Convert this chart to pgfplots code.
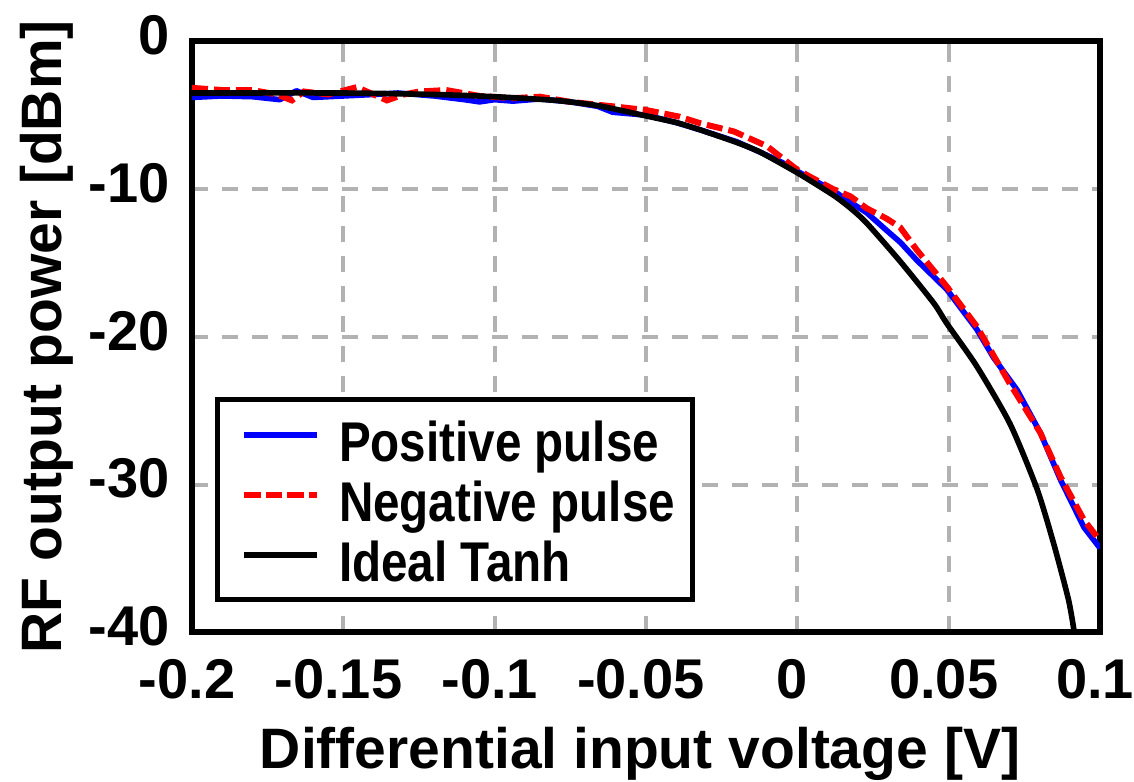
\documentclass[border=0pt]{standalone}
\usepackage{fontspec}
\setmainfont{Liberation Sans}
\newfontfamily\legfont{Liberation Sans}[FakeStretch=0.85]
\usepackage{pgfplots}
\pgfplotsset{compat=1.18}
\tikzset{reddash/.style={dash pattern=on 8pt off 3pt}}
\pgfplotstableread{
x y
-0.2 -3.8
-0.19 -3.7
-0.18 -3.75
-0.171 -3.95
-0.1655 -3.35
-0.16 -3.8
-0.15 -3.7
-0.14 -3.6
-0.132 -3.5
-0.12 -3.7
-0.11 -3.95
-0.105 -4.1
-0.1 -3.95
-0.094 -4.05
-0.085 -3.9
-0.075 -4.1
-0.066 -4.4
-0.061 -4.8
-0.05 -5.0
-0.04 -5.5
-0.032 -6.0
-0.02 -6.8
-0.0123 -7.5
-0.005 -8.2
0 -8.8
0.0118 -10.1
0.0176 -10.9
0.0229 -11.6
0.0295 -12.8
0.034 -13.6
0.0394 -14.8
0.0494 -16.8
0.0593 -19.5
0.0648 -21.4
0.0726 -23.6
0.0803 -26.5
0.087 -29.7
0.0947 -32.9
0.1 -34.3
}\pos
\pgfplotstableread{
x y
-0.2 -3.15
-0.19 -3.3
-0.18 -3.3
-0.172 -3.6
-0.167 -4.0
-0.163 -3.4
-0.155 -3.6
-0.1455 -3.1
-0.1356 -4.0
-0.13 -3.6
-0.125 -3.4
-0.116 -3.3
-0.105 -3.7
-0.094 -3.85
-0.085 -3.75
-0.075 -4.1
-0.061 -4.4
-0.05 -4.65
-0.039 -5.1
-0.032 -5.55
-0.021 -6.1
-0.01 -7.1
0 -8.7
0.0118 -10.0
0.0176 -10.5
0.0229 -11.3
0.0295 -12.0
0.034 -12.6
0.0394 -14.1
0.0494 -16.6
0.0593 -19.3
0.0703 -23.2
0.0803 -26.5
0.087 -29.5
0.0947 -32.4
0.1 -33.8
}\negp
\pgfplotstableread{
x y
-0.2 -3.5
-0.15 -3.5
-0.12 -3.6
-0.1 -3.75
-0.08 -4.0
-0.066 -4.35
-0.05 -5.05
-0.04 -5.5
-0.032 -6.0
-0.02 -6.85
-0.0123 -7.5
0 -8.9
0.0118 -10.4
0.0176 -11.3
0.0229 -12.3
0.034 -14.9
0.045 -17.7
0.0494 -19.1
0.0593 -22.0
0.0703 -25.9
0.0792 -30.3
0.0847 -34.0
0.0896 -37.8
0.0915 -40.0
}\ideal
\newcommand{\legline}[1]{\tikz[baseline={(0,-13.5pt)}]{\path (0,-3pt) rectangle (36.5pt,3pt); \draw[#1, line cap=butt] (0,0) -- (36.5pt,0);}}
\begin{document}
\begin{tikzpicture}
\begin{axis}[
  scale only axis, width=454pt, height=295.5pt,
  xmin=-0.2, xmax=0.1, ymin=-40, ymax=0,
  xtick={-0.2,-0.15,-0.1,-0.05,0,0.05,0.1},
  xticklabels={-0.2,-0.15,-0.1,-0.05,0,0.05,0.1},
  ytick={-40,-30,-20,-10,0},
  yticklabels={-40,-30,-20,-10,0},
  tick label style={font=\bfseries\fontsize{28}{28}\selectfont, inner sep=0pt},
  xticklabel style={anchor=base, yshift=-33pt, xshift=-2.5pt},
  yticklabel style={anchor=east, xshift=-11pt, yshift=3pt},
  tick align=inside,
  major tick length=4pt,
  tick style={black!30, line width=2pt},
  grid=major,
  major grid style={black!30, line width=2pt, dash pattern=on 8pt off 7pt},
  axis line style={line width=3pt},
  xlabel={Differential input voltage [V]},
  ylabel={RF output power [dBm]},
  label style={font=\bfseries\fontsize{28.5}{28.5}\selectfont, inner sep=0pt},
  xlabel style={at={(axis description cs:0.4934,-0.2301)}, anchor=base},
  ylabel style={at={(axis description cs:-0.1432,0.5)}, anchor=base},
]
\addplot[blue, line width=2.8pt, line join=round] table[x=x,y=y] {\pos};
\addplot[red, line width=3pt, reddash, line cap=butt] table[x=x,y=y] {\negp};
\addplot[black, line width=2.8pt, line join=round, smooth, tension=0.4] table[x=x,y=y] {\ideal};
\coordinate (ll) at (rel axis cs:0,0);
\coordinate (ur) at (rel axis cs:1,1);
\coordinate (legsw) at (axis description cs:0.0281,0.055);
\end{axis}
\node[draw=black, line width=2.5pt, fill=white, inner sep=0pt, outer sep=0pt, anchor=south west]
  at (legsw) {\legfont\bfseries\fontsize{28}{30}\selectfont
  \begin{tabular}{@{\hspace{11.75pt}}l@{\hspace{9.5pt}}l@{\hspace{8.75pt}}}
  \rule{0pt}{31.25pt}\legline{blue, line width=3pt} & Positive pulse\\
  \legline{red, line width=3pt, dash pattern=on 8.3pt off 2.5pt} & Negative pulse\\
  \legline{black, line width=3pt} & Ideal Tanh
  \end{tabular}};
\pgfresetboundingbox
\path[use as bounding box] ([shift={(-96pt,-74.5pt)}]ll) rectangle ([shift={(17pt,20.65pt)}]ur);
\end{tikzpicture}
\end{document}
